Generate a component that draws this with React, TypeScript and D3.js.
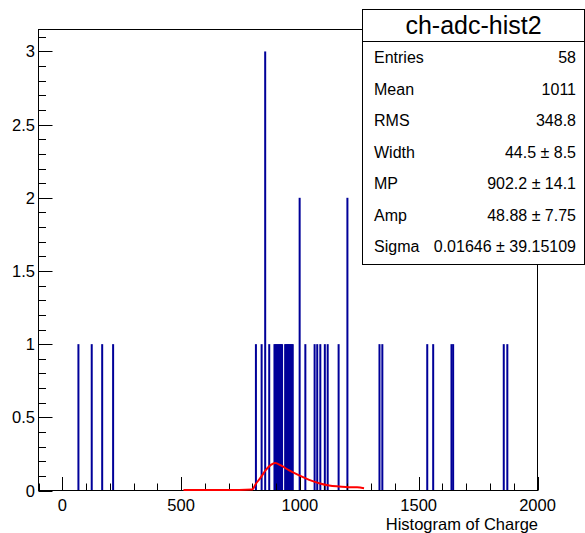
import React from "react";
import * as d3 from "d3";

// Histogram bins: position (ADC charge) and count
const binCenters = [
  68, 124, 168, 214,
  815, 839, 854, 871,
  893, 897, 901, 905, 909, 913, 917, 921, 925,
  938, 942, 946, 950, 954, 958, 962, 966, 970,
  999, 1023, 1062, 1073, 1086, 1105, 1117, 1163, 1200,
  1335, 1347, 1536, 1561, 1638, 1645, 1858, 1873,
];
const binCounts = [
  1, 1, 1, 1,
  1, 1, 3, 1,
  1, 1, 1, 1, 1, 1, 1, 1, 1,
  1, 1, 1, 1, 1, 1, 1, 1, 1,
  2, 1, 1, 1, 1, 1, 1, 1, 2,
  1, 1, 1, 1, 1, 1, 1, 1,
];

// Fit curve
const fitX = [510, 745, 798, 815, 836, 857, 878, 896, 920, 955, 997, 1039, 1081, 1123, 1165, 1207, 1241, 1270];
const fitY = [0.004, 0.004, 0.006, 0.046, 0.091, 0.141, 0.175, 0.188, 0.171, 0.137, 0.103, 0.073, 0.05, 0.034, 0.027, 0.022, 0.022, 0.016];

const xTicks = [0, 500, 1000, 1500, 2000];
const yTicks = [0, 0.5, 1, 1.5, 2, 2.5, 3];

const statsTitle = "ch-adc-hist2";
const statsLabels = ["Entries", "Mean", "RMS", "Width", "MP", "Amp", "Sigma"];
const statsValues = ["58", "1011", "348.8", "44.5 ± 8.5", "902.2 ± 14.1", "48.88 ± 7.75", "0.01646 ± 39.15109"];

const W = 585;
const H = 533;
const frame = { left: 38.5, right: 537.5, top: 29.5, bottom: 490.5 };
const FONT = "'Liberation Sans', Arial, Helvetica, sans-serif";

export default function App() {
  const x = d3.scaleLinear().domain([-100, 2000]).range([frame.left, frame.right]);
  const y = d3.scaleLinear().domain([0, 3.15]).range([frame.bottom, frame.top]);

  const xMinor = d3.range(-100, 2001, 100);
  const yMinor = d3.range(0, 3.151, 0.1);

  const line = d3
    .line<number>()
    .x((_, i) => x(fitX[i]))
    .y((d) => y(d))
    .curve(d3.curveMonotoneX);

  const box = { left: 362.5, right: 584.5, top: 9.5, bottom: 264.5, sep: 41.5 };
  const rowBase = d3.scaleLinear().domain([0, statsLabels.length - 1]).range([63, 252]);

  return (
    <svg
      width={W}
      height={H}
      style={{ position: "absolute", left: 0, top: 0, background: "#fff" }}
      fontFamily={FONT}
    >
      <rect x={0} y={0} width={W} height={H} fill="#fff" />
      {/* bars */}
      <g fill="#000099">
        {binCenters.map((c, i) => (
          <rect
            key={i}
            x={x(c) - 1}
            width={2}
            y={y(binCounts[i])}
            height={y(0) - y(binCounts[i])}
          />
        ))}
      </g>
      {/* frame */}
      <rect
        x={frame.left}
        y={frame.top}
        width={frame.right - frame.left}
        height={frame.bottom - frame.top}
        fill="none"
        stroke="#000"
        strokeWidth={1}
      />
      {/* ticks */}
      <g stroke="#000" strokeWidth={1}>
        {xMinor.map((v) => {
          const major = v % 500 === 0;
          const px = Math.round(x(v)) + 0.5;
          return <line key={v} x1={px} x2={px} y1={frame.bottom} y2={frame.bottom - (major ? 13.5 : 7)} />;
        })}
        {yMinor.map((v, i) => {
          const major = i % 5 === 0;
          const py = Math.round(y(v)) + 0.5;
          return <line key={i} x1={frame.left} x2={frame.left + (major ? 14 : 7.5)} y1={py} y2={py} />;
        })}
      </g>
      {/* fit */}
      <path d={line(fitY) || ""} fill="none" stroke="#ff0000" strokeWidth={2} />
      <g fontSize={16.5} fill="#000">
        {xTicks.map((v) => (
          <text key={v} x={x(v)} y={511} textAnchor="middle">
            {v}
          </text>
        ))}
        {yTicks.map((v) => (
          <text key={v} x={35} y={y(v) + 6} textAnchor="end">
            {v}
          </text>
        ))}
      </g>
      <text x={538} y={529.5} textAnchor="end" fontSize={16.5} fill="#000">
        Histogram of Charge
      </text>
      {/* stats box */}
      <rect
        x={box.left}
        y={box.top}
        width={box.right - box.left}
        height={box.bottom - box.top}
        fill="#fff"
        stroke="#000"
        strokeWidth={1}
      />
      <line x1={box.left} x2={box.right} y1={box.sep} y2={box.sep} stroke="#000" strokeWidth={1} />
      <text x={(box.left + box.right) / 2} y={34} textAnchor="middle" fontSize={25} fill="#000">
        {statsTitle}
      </text>
      <g fontSize={16} fill="#000">
        {statsLabels.map((l, i) => (
          <text key={l} x={374} y={rowBase(i)}>
            {l}
          </text>
        ))}
        {statsValues.map((v, i) => (
          <text key={i} x={576} y={rowBase(i)} textAnchor="end">
            {v}
          </text>
        ))}
      </g>
    </svg>
  );
}
